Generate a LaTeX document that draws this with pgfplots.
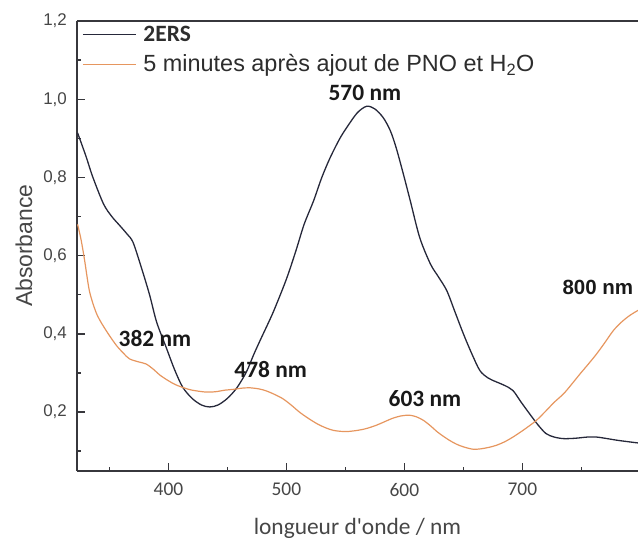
\documentclass[border=0pt]{standalone}
\usepackage{fontspec}
\setmainfont{Carlito}[Ligatures=TeXOff]
\newfontfamily\arial{Liberation Sans}
\usepackage{pgfplots}
\pgfplotsset{compat=1.18}
\definecolor{axgray}{RGB}{55,55,60}
\definecolor{curveblack}{RGB}{38,40,58}
\definecolor{curveorange}{RGB}{230,150,95}
\definecolor{txtgray}{RGB}{70,70,70}
\definecolor{legtxt}{RGB}{45,45,45}
\definecolor{annot}{RGB}{25,25,25}
\begin{document}
\begin{tikzpicture}
\begin{axis}[
  scale only axis, width=561bp, height=449.7bp,
  xmin=322.5, xmax=798, ymin=0.05, ymax=1.2,
  axis x line*=box, axis y line*=left,
  x axis line style={-}, y axis line style={-},
  axis line style={draw=axgray, line width=1.6bp},
  xtick pos=bottom, ytick pos=left,
  tick align=inside,
  major tick length=8bp, minor tick length=4bp,
  every tick/.style={axgray, line width=1.4bp},
  xtick={400,500,600,700}, xticklabels={400,500,600,700},
  minor xtick={350,450,550,650,750},
  ytick={0.2,0.4,0.6,0.8,1.0,1.2},
  yticklabels={{0,2},{0,4},{0,6},{0,8},{1,0},{1,2}},
  minor ytick={0.1,0.3,0.5,0.7,0.9,1.1},
  xticklabel style={font=\fontsize{19.5}{22}\selectfont, text=txtgray, anchor=north, inner sep=0pt, yshift=-12bp},
  yticklabel style={font=\arial\fontsize{17}{20}\selectfont, text=txtgray, anchor=east, inner sep=0pt, xshift=-10bp},
  xlabel={longueur d'onde / nm},
  ylabel={Absorbance},
  xlabel style={font=\fontsize{23.5}{28}\selectfont, text=txtgray, at={(axis description cs:0.5,-0.1274)}, anchor=center},
  ylabel style={font=\arial\fontsize{23}{27}\selectfont, text=txtgray, at={(axis description cs:-0.0945,0.5)}, anchor=center},
  legend style={at={(axis description cs:0.0089,0.9925)}, anchor=north west, draw=none, fill=none,
    inner sep=0pt, row sep=7bp, column sep=7bp,
    font=\fontsize{23.5}{28}\selectfont,
    nodes={inner sep=0pt, text height=17bp, text depth=6bp, text=legtxt}},
  legend cell align=left,
  legend image code/.code={\draw[#1] (0bp,1.5bp) -- (53bp,1.5bp);},
]
\addplot[curveblack, line width=1.3bp, smooth, tension=0.5] coordinates {
(323,0.914) (330,0.855) (336,0.800) (345,0.732) (352,0.700) (359,0.676) (365,0.655) (370,0.634)
(377,0.570) (384,0.500) (390,0.430) (398,0.366) (405,0.310) (412,0.264) (420,0.235)
(428,0.218) (435,0.213) (442,0.218) (450,0.235) (458,0.262) (466,0.302) (472,0.345)
(478,0.385) (485,0.430) (490,0.464) (500,0.540) (508,0.612) (515,0.680) (523,0.740)
(530,0.800) (537,0.850) (545,0.898) (551,0.927) (560,0.965) (568,0.982) (575,0.975)
(582,0.953) (588,0.920) (593,0.876) (599,0.810) (605,0.740) (613,0.646) (622,0.579)
(629,0.545) (636,0.510) (643,0.455) (650,0.400) (657,0.350) (664,0.306) (671,0.287)
(678,0.277) (685,0.268) (692,0.255) (699,0.225) (706,0.196) (713,0.168) (720,0.145)
(727,0.136) (735,0.132) (745,0.133) (755,0.136) (763,0.136) (772,0.132) (780,0.128)
(790,0.124) (798,0.121)
};
\addlegendentry{\bfseries 2ERS}
\addplot[curveorange, line width=1.2bp, smooth, tension=0.5] coordinates {
(323,0.680) (326,0.640) (329,0.587) (333,0.510) (338,0.460) (342,0.434) (349,0.400)
(356,0.370) (362,0.350) (367,0.336) (375,0.328) (381,0.323) (387,0.310) (393,0.294)
(400,0.280) (406,0.270) (413,0.262) (420,0.256) (432,0.251) (440,0.252) (448,0.256)
(455,0.258) (462,0.261) (469,0.262) (477,0.259) (483,0.254) (490,0.245) (497,0.234)
(504,0.218) (511,0.200) (518,0.185) (526,0.170) (533,0.160) (540,0.153) (550,0.150)
(560,0.153) (568,0.158) (576,0.166) (583,0.175) (590,0.184) (597,0.190) (604,0.192)
(610,0.188) (616,0.179) (622,0.165) (628,0.149) (633,0.138) (638,0.128) (644,0.118)
(650,0.111) (658,0.105) (665,0.106) (672,0.110) (678,0.115) (685,0.124) (692,0.136)
(700,0.152) (706,0.165) (712,0.179) (720,0.203) (727,0.225) (735,0.247) (742,0.272)
(749,0.298) (756,0.323) (763,0.349) (770,0.378) (777,0.408) (784,0.430) (791,0.447)
(798,0.460)
};
\addlegendentry{\arial 5 minutes après ajout de PNO et H\textsubscript{2}O}
\coordinate (bl) at (rel axis cs:0,0);
\coordinate (tr) at (rel axis cs:1,1);
\node[font=\bfseries\fontsize{23.5}{28}\selectfont, text=annot] at (axis cs:566.5,1.016) {570 nm};
\node[font=\bfseries\fontsize{23.5}{28}\selectfont, text=annot] at (axis cs:388.6,0.387) {382 nm};
\node[font=\bfseries\fontsize{23.5}{28}\selectfont, text=annot] at (axis cs:486.7,0.308) {478 nm};
\node[font=\bfseries\fontsize{23.5}{28}\selectfont, text=annot] at (axis cs:617.4,0.234) {603 nm};
\node[font=\arial\bfseries\fontsize{20.6}{24}\selectfont, text=annot] at (axis cs:764,0.518) {800 nm};
\end{axis}
\pgfresetboundingbox
\useasboundingbox ([xshift=-77bp,yshift=-68.3bp]bl) rectangle ([yshift=21bp]tr);
\end{tikzpicture}
\end{document}
